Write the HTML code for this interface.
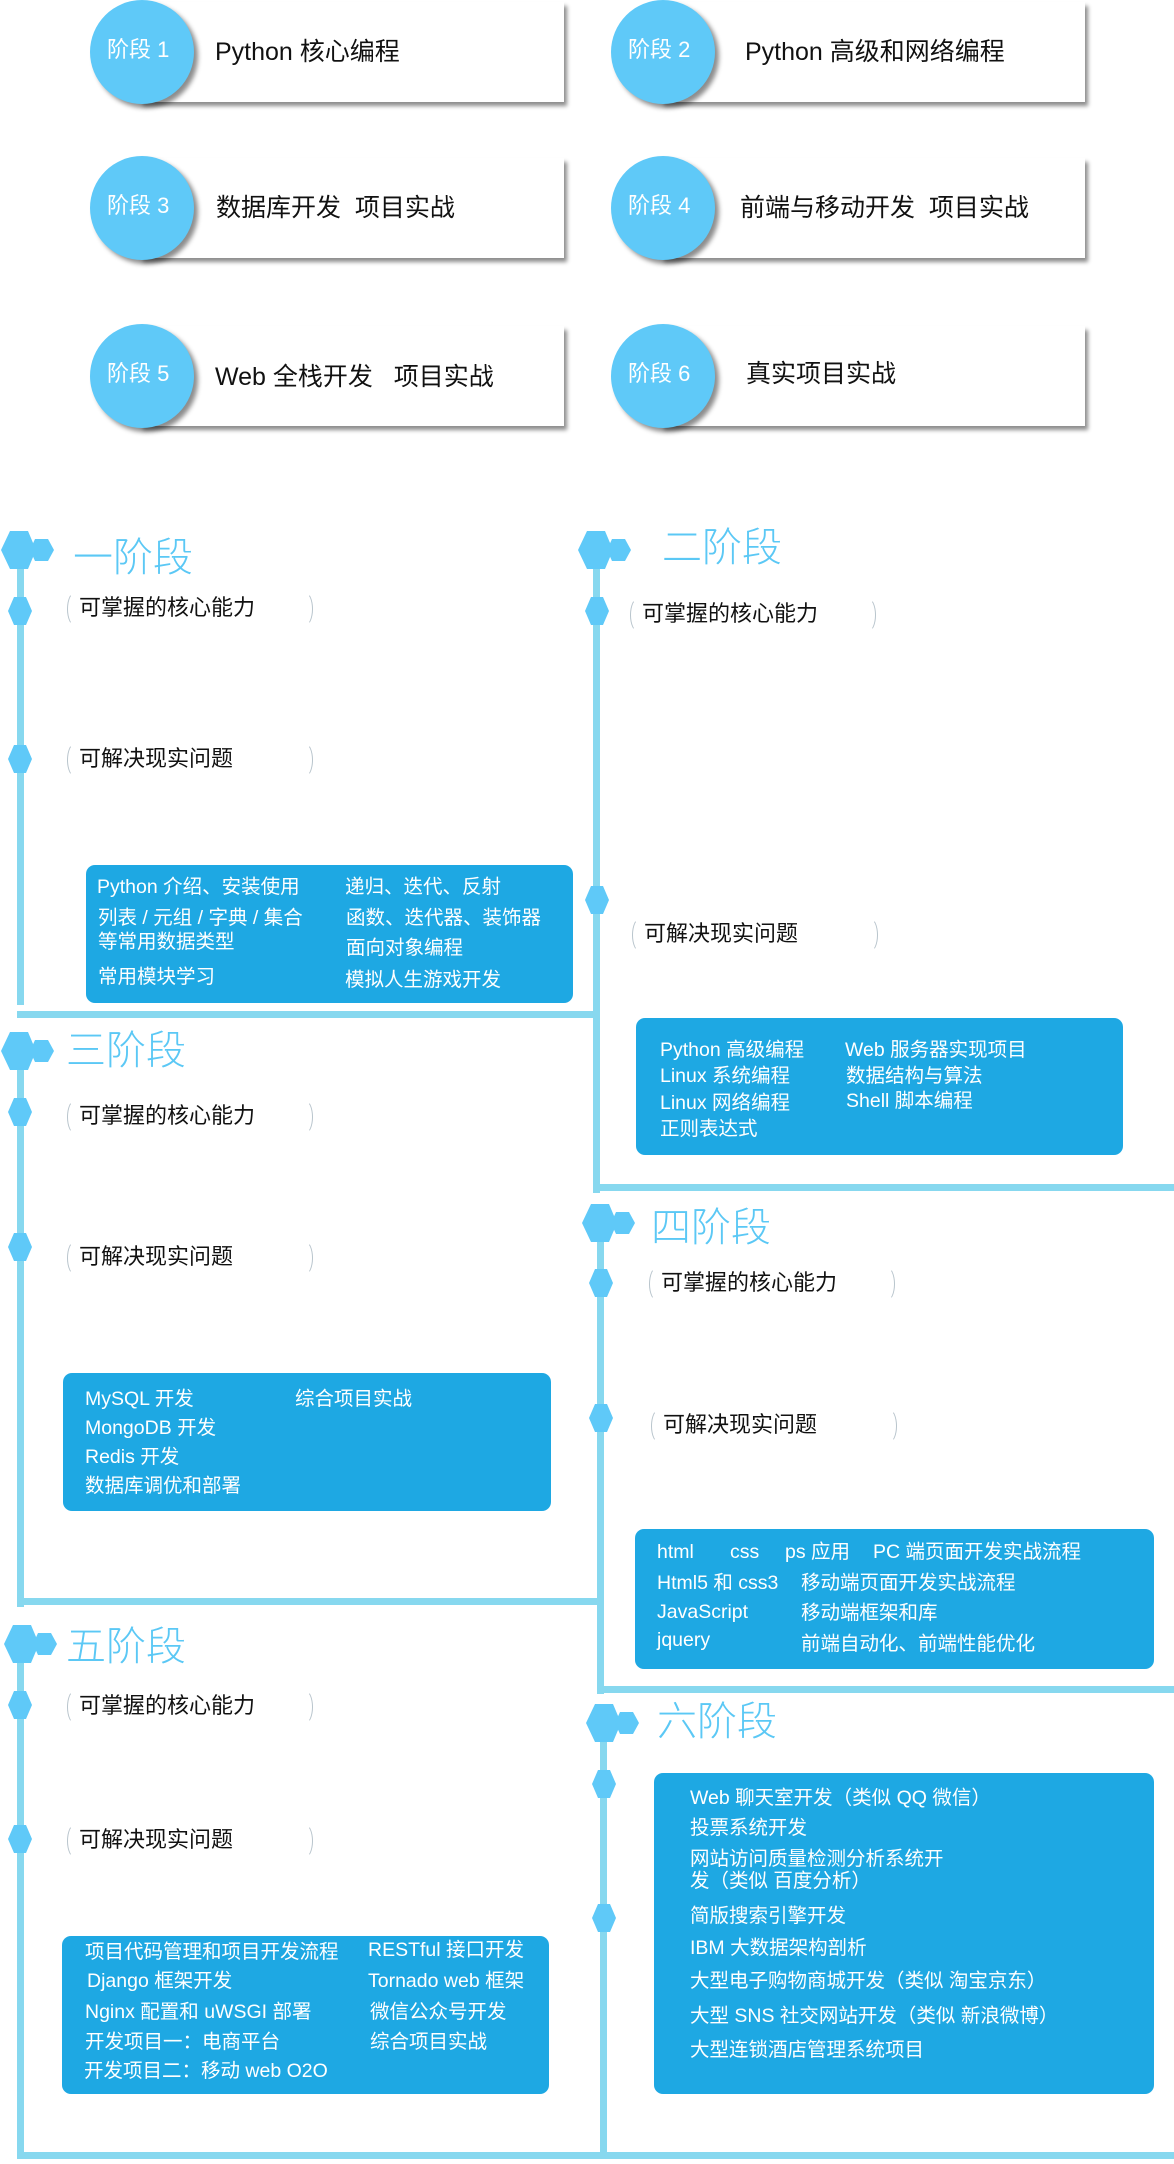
<!DOCTYPE html>
<html><head><meta charset="utf-8">
<style>
*{margin:0;padding:0;box-sizing:border-box}
body{width:1174px;height:2164px;background:#fff;position:relative;overflow:hidden;font-family:"Liberation Sans","Noto Sans CJK SC",sans-serif}
.a{position:absolute}
.card{position:absolute;height:100px;background:#fff;box-shadow:3px 4px 4px rgba(0,0,0,.45)}
.circ{position:absolute;width:104px;height:104px;border-radius:50%;background:#5fc9f8;box-shadow:4px 4px 5px rgba(0,0,0,.45);color:#fff;font-size:22px;line-height:100px;padding-left:17px;white-space:nowrap}
.ct{position:absolute;font-size:25px;color:#111;white-space:nowrap}
.vl{position:absolute;width:7px;background:#87d8ef}
.hl{position:absolute;height:7px;background:#87d8ef}
.hex{position:absolute;width:54px;height:38px}
.dia{position:absolute;width:24px;height:28px;background:#5fc9f8;clip-path:polygon(25% 0,75% 0,100% 50%,75% 100%,25% 100%,0 50%)}
.title{position:absolute;font-size:40px;color:#5bc8f5;line-height:1;white-space:nowrap;font-weight:300}
.lab{position:absolute;width:246px;height:32px;font-size:22px;color:#111;line-height:32px;padding-left:12px;white-space:nowrap}
.lab:before,.lab:after{content:"";position:absolute;top:0;width:14px;height:32px;border:1px solid #b8c4cc;border-radius:50%}
.lab:before{left:0;border-right-color:transparent;border-top-color:transparent;border-bottom-color:transparent}
.lab:after{right:0;border-left-color:transparent;border-top-color:transparent;border-bottom-color:transparent}
.box{position:absolute;background:#1ea8e3;border-radius:9px}
.t{position:absolute;color:#fff;font-size:19.5px;white-space:nowrap;line-height:1}
</style></head><body>

<!-- top cards -->
<div class="card" style="left:140px;top:2px;width:424px"></div>
<div class="circ" style="left:90px;top:0">阶段 1</div>
<div class="ct" style="left:215px;top:32px">Python 核心编程</div>
<div class="card" style="left:661px;top:2px;width:424px"></div>
<div class="circ" style="left:611px;top:0">阶段 2</div>
<div class="ct" style="left:745px;top:32px">Python 高级和网络编程</div>

<div class="card" style="left:140px;top:158px;width:424px"></div>
<div class="circ" style="left:90px;top:156px">阶段 3</div>
<div class="ct" style="left:216px;top:188px">数据库开发&nbsp; 项目实战</div>
<div class="card" style="left:661px;top:158px;width:424px"></div>
<div class="circ" style="left:611px;top:156px">阶段 4</div>
<div class="ct" style="left:740px;top:188px">前端与移动开发&nbsp; 项目实战</div>

<div class="card" style="left:140px;top:326px;width:424px"></div>
<div class="circ" style="left:90px;top:324px">阶段 5</div>
<div class="ct" style="left:215px;top:357px">Web 全栈开发&nbsp;&nbsp; 项目实战</div>
<div class="card" style="left:661px;top:326px;width:424px"></div>
<div class="circ" style="left:611px;top:324px">阶段 6</div>
<div class="ct" style="left:746px;top:354px">真实项目实战</div>

<!-- lines -->
<div class="vl" style="left:17px;top:560px;height:445px"></div>
<div class="hl" style="left:17px;top:1011px;width:583px"></div>
<div class="vl" style="left:593px;top:545px;height:648px"></div>
<div class="hl" style="left:593px;top:1184px;width:581px"></div>
<div class="vl" style="left:17px;top:1060px;height:547px"></div>
<div class="hl" style="left:17px;top:1598px;width:583px"></div>
<div class="vl" style="left:597px;top:1236px;height:458px"></div>
<div class="hl" style="left:597px;top:1686px;width:577px"></div>
<div class="vl" style="left:17px;top:1655px;height:503px"></div>
<div class="vl" style="left:600px;top:1735px;height:423px"></div>
<div class="hl" style="left:17px;top:2152px;width:1157px"></div>

<!-- hexes -->
<svg class="hex" style="left:0;top:531px" viewBox="0 0 54 38"><polygon points="10,0 28,0 36,19 28,38 10,38 1,19" fill="#5fc9f8"/><polygon points="35,8 48,8 54,19 48,30 35,30 30,19" fill="#5fc9f8"/></svg>
<svg class="hex" style="left:577px;top:531px" viewBox="0 0 54 38"><polygon points="10,0 28,0 36,19 28,38 10,38 1,19" fill="#5fc9f8"/><polygon points="35,8 48,8 54,19 48,30 35,30 30,19" fill="#5fc9f8"/></svg>
<svg class="hex" style="left:0;top:1032px" viewBox="0 0 54 38"><polygon points="10,0 28,0 36,19 28,38 10,38 1,19" fill="#5fc9f8"/><polygon points="35,8 48,8 54,19 48,30 35,30 30,19" fill="#5fc9f8"/></svg>
<svg class="hex" style="left:581px;top:1204px" viewBox="0 0 54 38"><polygon points="10,0 28,0 36,19 28,38 10,38 1,19" fill="#5fc9f8"/><polygon points="35,8 48,8 54,19 48,30 35,30 30,19" fill="#5fc9f8"/></svg>
<svg class="hex" style="left:3px;top:1625px" viewBox="0 0 54 38"><polygon points="10,0 28,0 36,19 28,38 10,38 1,19" fill="#5fc9f8"/><polygon points="35,8 48,8 54,19 48,30 35,30 30,19" fill="#5fc9f8"/></svg>
<svg class="hex" style="left:585px;top:1704px" viewBox="0 0 54 38"><polygon points="10,0 28,0 36,19 28,38 10,38 1,19" fill="#5fc9f8"/><polygon points="35,8 48,8 54,19 48,30 35,30 30,19" fill="#5fc9f8"/></svg>

<!-- titles -->
<div class="title" style="left:73px;top:538px">一阶段</div>
<div class="title" style="left:662px;top:528px">二阶段</div>
<div class="title" style="left:66px;top:1031px">三阶段</div>
<div class="title" style="left:651px;top:1208px">四阶段</div>
<div class="title" style="left:66px;top:1627px">五阶段</div>
<div class="title" style="left:657px;top:1702px">六阶段</div>

<!-- diamonds -->
<div class="dia" style="left:8px;top:597px"></div>
<div class="dia" style="left:8px;top:745px"></div>
<div class="dia" style="left:585px;top:597px"></div>
<div class="dia" style="left:585px;top:886px"></div>
<div class="dia" style="left:8px;top:1098px"></div>
<div class="dia" style="left:8px;top:1233px"></div>
<div class="dia" style="left:589px;top:1269px"></div>
<div class="dia" style="left:589px;top:1404px"></div>
<div class="dia" style="left:8px;top:1691px"></div>
<div class="dia" style="left:8px;top:1825px"></div>
<div class="dia" style="left:592px;top:1770px"></div>
<div class="dia" style="left:592px;top:1904px"></div>

<!-- labels -->
<div class="lab" style="left:67px;top:592px">可掌握的核心能力</div>
<div class="lab" style="left:67px;top:743px">可解决现实问题</div>
<div class="lab" style="left:630px;top:598px">可掌握的核心能力</div>
<div class="lab" style="left:632px;top:918px">可解决现实问题</div>
<div class="lab" style="left:67px;top:1100px">可掌握的核心能力</div>
<div class="lab" style="left:67px;top:1241px">可解决现实问题</div>
<div class="lab" style="left:649px;top:1267px">可掌握的核心能力</div>
<div class="lab" style="left:651px;top:1409px">可解决现实问题</div>
<div class="lab" style="left:67px;top:1690px">可掌握的核心能力</div>
<div class="lab" style="left:67px;top:1824px">可解决现实问题</div>

<!-- box1 -->
<div class="box" style="left:86px;top:865px;width:487px;height:138px"></div>
<div class="t" style="left:97px;top:878px">Python 介绍、安装使用</div>
<div class="t" style="left:98px;top:909px">列表 / 元组 / 字典 / 集合</div>
<div class="t" style="left:98px;top:933px">等常用数据类型</div>
<div class="t" style="left:98px;top:968px">常用模块学习</div>
<div class="t" style="left:345px;top:878px">递归、迭代、反射</div>
<div class="t" style="left:346px;top:909px">函数、迭代器、装饰器</div>
<div class="t" style="left:346px;top:939px">面向对象编程</div>
<div class="t" style="left:345px;top:971px">模拟人生游戏开发</div>

<!-- box2 -->
<div class="box" style="left:636px;top:1018px;width:487px;height:137px"></div>
<div class="t" style="left:660px;top:1041px">Python 高级编程</div>
<div class="t" style="left:660px;top:1067px">Linux 系统编程</div>
<div class="t" style="left:660px;top:1094px">Linux 网络编程</div>
<div class="t" style="left:660px;top:1120px">正则表达式</div>
<div class="t" style="left:845px;top:1041px">Web 服务器实现项目</div>
<div class="t" style="left:846px;top:1067px">数据结构与算法</div>
<div class="t" style="left:846px;top:1092px">Shell 脚本编程</div>

<!-- box3 -->
<div class="box" style="left:63px;top:1373px;width:488px;height:138px"></div>
<div class="t" style="left:85px;top:1390px">MySQL 开发</div>
<div class="t" style="left:85px;top:1419px">MongoDB 开发</div>
<div class="t" style="left:85px;top:1448px">Redis 开发</div>
<div class="t" style="left:85px;top:1477px">数据库调优和部署</div>
<div class="t" style="left:295px;top:1390px">综合项目实战</div>

<!-- box4 -->
<div class="box" style="left:635px;top:1529px;width:519px;height:140px"></div>
<div class="t" style="left:657px;top:1543px">html</div>
<div class="t" style="left:730px;top:1543px">css</div>
<div class="t" style="left:785px;top:1543px">ps 应用</div>
<div class="t" style="left:873px;top:1543px">PC 端页面开发实战流程</div>
<div class="t" style="left:657px;top:1574px">Html5 和 css3</div>
<div class="t" style="left:801px;top:1574px">移动端页面开发实战流程</div>
<div class="t" style="left:657px;top:1603px">JavaScript</div>
<div class="t" style="left:801px;top:1604px">移动端框架和库</div>
<div class="t" style="left:657px;top:1631px">jquery</div>
<div class="t" style="left:801px;top:1635px">前端自动化、前端性能优化</div>

<!-- box5 -->
<div class="box" style="left:62px;top:1936px;width:487px;height:158px"></div>
<div class="t" style="left:85px;top:1943px">项目代码管理和项目开发流程</div>
<div class="t" style="left:87px;top:1972px">Django 框架开发</div>
<div class="t" style="left:85px;top:2003px">Nginx 配置和 uWSGI 部署</div>
<div class="t" style="left:85px;top:2033px">开发项目一：电商平台</div>
<div class="t" style="left:84px;top:2062px">开发项目二：移动 web O2O</div>
<div class="t" style="left:368px;top:1941px">RESTful 接口开发</div>
<div class="t" style="left:368px;top:1972px">Tornado web 框架</div>
<div class="t" style="left:370px;top:2003px">微信公众号开发</div>
<div class="t" style="left:370px;top:2033px">综合项目实战</div>

<!-- box6 -->
<div class="box" style="left:654px;top:1773px;width:500px;height:321px"></div>
<div class="t" style="left:690px;top:1789px">Web 聊天室开发（类似 QQ 微信）</div>
<div class="t" style="left:690px;top:1819px">投票系统开发</div>
<div class="t" style="left:690px;top:1850px">网站访问质量检测分析系统开</div>
<div class="t" style="left:690px;top:1872px">发（类似 百度分析）</div>
<div class="t" style="left:690px;top:1907px">简版搜索引擎开发</div>
<div class="t" style="left:690px;top:1939px">IBM 大数据架构剖析</div>
<div class="t" style="left:690px;top:1972px">大型电子购物商城开发（类似 淘宝京东）</div>
<div class="t" style="left:690px;top:2007px">大型 SNS 社交网站开发（类似 新浪微博）</div>
<div class="t" style="left:690px;top:2041px">大型连锁酒店管理系统项目</div>

</body></html>
